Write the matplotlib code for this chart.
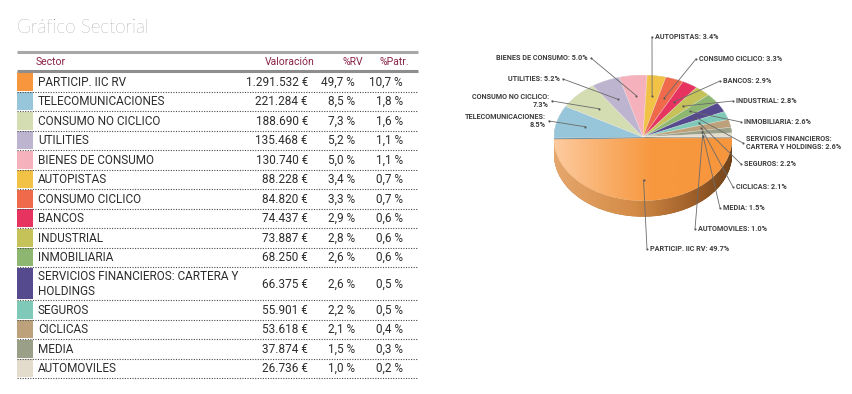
import numpy as np
import matplotlib
matplotlib.use("Agg")
import matplotlib.pyplot as plt
from matplotlib.patches import Rectangle
from matplotlib.colors import LinearSegmentedColormap, to_rgb
from matplotlib.path import Path

# ---------------- data ----------------
title = "Gráfico Sectorial"
headers = ["Sector", "Valoración", "%RV", "%Patr."]
sectors = ["PARTICIP. IIC RV", "TELECOMUNICACIONES", "CONSUMO NO CICLICO", "UTILITIES",
           "BIENES DE CONSUMO", "AUTOPISTAS", "CONSUMO CICLICO", "BANCOS", "INDUSTRIAL",
           "INMOBILIARIA", "SERVICIOS FINANCIEROS: CARTERA Y\nHOLDINGS", "SEGUROS",
           "CICLICAS", "MEDIA", "AUTOMOVILES"]
valoracion = [1291532, 221284, 188690, 135468, 130740, 88228, 84820, 74437, 73887,
              68250, 66375, 55901, 53618, 37874, 26736]
pct_rv = [49.7, 8.5, 7.3, 5.2, 5.0, 3.4, 3.3, 2.9, 2.8, 2.6, 2.6, 2.2, 2.1, 1.5, 1.0]
pct_patr = [10.7, 1.8, 1.6, 1.1, 1.1, 0.7, 0.7, 0.6, 0.6, 0.6, 0.5, 0.5, 0.4, 0.3, 0.2]
colors = ["#F7963C", "#97C5DA", "#D4DDB2", "#BDB4D0", "#F5B1BC", "#F1C246", "#EE6A4B",
          "#E7335F", "#C6C25A", "#8DB770", "#564A8F", "#7FC9B8", "#BCA17B", "#9AA087",
          "#E3DBCC"]
pie_labels = ["PARTICIP. IIC RV: 49.7%", "TELECOMUNICACIONES:\n8.5%", "CONSUMO NO CICLICO:\n7.3%",
              "UTILITIES: 5.2%", "BIENES DE CONSUMO: 5.0%", "AUTOPISTAS: 3.4%",
              "CONSUMO CICLICO: 3.3%", "BANCOS: 2.9%", "INDUSTRIAL: 2.8%", "INMOBILIARIA: 2.6%",
              "SERVICIOS FINANCIEROS:\nCARTERA Y HOLDINGS: 2.6%", "SEGUROS: 2.2%",
              "CICLICAS: 2.1%", "MEDIA: 1.5%", "AUTOMOVILES: 1.0%"]

# ---------------- layout ----------------
W, H = 853, 394
label_dots = [(647, 249, "R"), (549, 121, "L"), (552, 101, "L"), (563, 79, "L"),
              (591, 58, "L"), (652, 37, "R"), (696, 59, "R"), (720, 81, "R"),
              (733, 101, "R"), (741, 122, "R"), (743, 143, "R"), (741, 164, "R"),
              (733, 187, "R"), (720, 208, "R"), (695, 229, "R")]

TXT = "#2c2c2c"
HDR = "#8A2248"
NARROW = ["Liberation Sans Narrow", "Roboto", "DejaVu Sans"]

fig = plt.figure(figsize=(W / 100, H / 100), dpi=100)
fig.patch.set_facecolor("white")

# ---------------- pie (elliptical, pseudo-3D) ----------------
cx, cy, rx, ry = 643, 137, 89, 62
pax = fig.add_axes([(cx - 1.5 * rx) / W, (H - (cy + 1.5 * ry)) / H, 3 * rx / W, 3 * ry / H])
pax.set_zorder(1)
explode = [0.025] + [0] * (len(valoracion) - 1)
t = 0.26


def darker(c, f):
    r, g, b = to_rgb(c)
    return (r * f, g * f, b * f)


side_colors = [darker(c, 0.72) for c in colors]
side_orange = []
for off in np.linspace(t, 0.0, 24):
    ws, _ = pax.pie(valoracion, explode=explode, colors=side_colors, startangle=0,
                    counterclock=False, center=(0, -off),
                    wedgeprops=dict(zorder=1, linewidth=0))
    side_orange.append(ws[0])

faces, _ = pax.pie(valoracion, explode=explode, colors=colors, startangle=0,
                   counterclock=False, center=(0, 0),
                   wedgeprops=dict(zorder=3, edgecolor=(1, 1, 1, 0.55), linewidth=0.4))

pax.set_aspect("auto")
pax.set_xlim(-1.5, 1.5)
pax.set_ylim(-1.5, 1.5)
pax.axis("off")

grad = np.linspace(0, 1, 256).reshape(1, -1)
side_cmap = LinearSegmentedColormap.from_list(
    "side", [(0, "#E6A86E"), (0.45, "#D48B46"), (0.8, "#9A5C27"), (1, "#6E4119")])
side_path = Path.make_compound_path(*[w.get_path() for w in side_orange])
im1 = pax.imshow(grad, extent=[-1.02, 1.02, -1.45, 0.05], cmap=side_cmap, aspect="auto",
                 zorder=2, interpolation="bilinear")
im1.set_clip_path(side_path, transform=pax.transData)

face_cmap = LinearSegmentedColormap.from_list(
    "face", [(0, "#FDCCA2"), (0.3, "#F9AE69"), (0.55, "#F7983F"), (1, "#F7963C")])
im2 = pax.imshow(grad, extent=[-1.02, 1.02, -1.2, 0.05], cmap=face_cmap, aspect="auto",
                 zorder=3.5, interpolation="bilinear")
im2.set_clip_path(faces[0])
pax.set_xlim(-1.5, 1.5)
pax.set_ylim(-1.5, 1.5)

# ---------------- overlay (pixel coordinates) ----------------
ov = fig.add_axes([0, 0, 1, 1])
ov.set_zorder(2)
ov.set_xlim(0, W)
ov.set_ylim(H, 0)
ov.axis("off")
ov.patch.set_alpha(0)

ov.text(17, 33, title, fontsize=13.5, color="#6a6a6a", family=["Lato", "DejaVu Sans"],
        fontweight="light", va="baseline", ha="left")

# table frame
ov.plot([17, 418], [52, 52], color="#a8a8a8", lw=2.2, solid_capstyle="butt")
ov.plot([17, 418], [71, 71], color="#8e8e8e", lw=2.2, solid_capstyle="butt")
hy = 62
ov.text(36, hy, headers[0], fontsize=7.5, color=HDR, family=NARROW, va="center", ha="left")
ov.text(315, hy, headers[1], fontsize=7.5, color=HDR, family=NARROW, va="center", ha="right")
ov.text(363, hy, headers[2], fontsize=7.5, color=HDR, family=NARROW, va="center", ha="right")
ov.text(409, hy, headers[3], fontsize=7.5, color=HDR, family=NARROW, va="center", ha="right")


def fmt_eur(v):
    return f"{v:,}".replace(",", ".") + " €"


def fmt_pct(p):
    return f"{p:.1f}".replace(".", ",") + " %"


y = 72.0
unit, double = 19.5, 33.0
for name, v, rv, pa, c in zip(sectors, valoracion, pct_rv, pct_patr, colors):
    h = unit if name.count("\n") == 0 else double
    ov.add_patch(Rectangle((17, y + 0.6), 16, h - 1.2, facecolor=c, edgecolor="none"))
    yc = y + h / 2 + 0.5
    ov.text(38, yc, name, fontsize=8.5, color=TXT, family=NARROW, va="center", ha="left",
            linespacing=1.15)
    ov.text(308, yc, fmt_eur(v), fontsize=8.5, color=TXT, family=NARROW, va="center", ha="right")
    ov.text(355, yc, fmt_pct(rv), fontsize=8.5, color=TXT, family=NARROW, va="center", ha="right")
    ov.text(403, yc, fmt_pct(pa), fontsize=8.5, color=TXT, family=NARROW, va="center", ha="right")
    y += h
    ov.plot([17, 418], [y, y], color="#4a4a4a", lw=0.8, linestyle=(0, (1, 1.3)))

# pie labels with leader lines
to_ov = pax.transData + ov.transData.inverted()
for w, lab, (dx, dy, side) in zip(faces, pie_labels, label_dots):
    th = np.deg2rad((w.theta1 + w.theta2) / 2)
    ax_, ay_ = to_ov.transform((w.center[0] + 0.67 * np.cos(th), w.center[1] + 0.67 * np.sin(th)))
    ov.plot([dx, ax_], [dy, ay_], color="#6a6a6a", lw=0.6)
    ov.plot([dx, ax_], [dy, ay_], "o", color="#555555", ms=1.5, mew=0)
    if side == "R":
        ov.text(dx + 3, dy, lab, fontsize=5.2, fontweight="bold", color="#3d3d3d",
                family=NARROW, va="center", ha="left", linespacing=1.1)
    else:
        ov.text(dx - 3, dy, lab, fontsize=5.2, fontweight="bold", color="#3d3d3d",
                family=NARROW, va="center", ha="right", multialignment="right",
                linespacing=1.1)

fig.savefig("out.png", dpi=100, facecolor="white")
